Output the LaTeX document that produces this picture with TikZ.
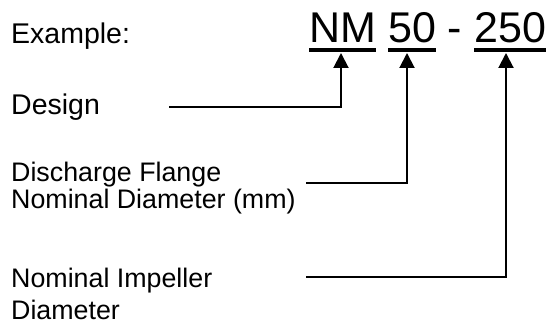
\documentclass[tikz,border=0pt]{standalone}
\usepackage{fontspec}
\setmainfont{Liberation Sans}
\usetikzlibrary{arrows.meta}
\newcommand{\drawCodeUnderline}[1]{
  \draw[line width=3.2pt] (#1.west |- underY) -- (#1.east |- underY);
}
\tikzset{
  label text/.style={inner sep=0pt, anchor=base west, font=\fontsize{26.8}{27}\selectfont},
  code text/.style={inner sep=0pt, anchor=base west, font=\fontsize{43}{48}\selectfont},
  pointer/.style={line width=2pt, -{Triangle[length=15pt, width=15pt]}}
}

\begin{document}
\begin{tikzpicture}[x=1pt, y=-1pt]
  \useasboundingbox (0,0) rectangle (548,320);
  \fill[white] (0,0) rectangle (548,320);
  \coordinate (underY) at (0,50);
  \node[label text, font=\fontsize{28.5}{30}\selectfont] (example) at (11,44) {Example:};
  \node[label text, font=\fontsize{28.5}{30}\selectfont] (design) at (11,115) {Design};
  \node[label text, align=left] (flange) at (11,209) {Discharge Flange\\Nominal Diameter (mm)};
  \node[label text, align=left, font=\fontsize{26.8}{32}\selectfont] (impeller) at (11,319) {Nominal Impeller\\Diameter};
  \node[code text] (codeNM) at (309,43) {NM};
  \node[code text] (code50) at (388,43) {50};
  \node[code text] (codeDash) at (447,43) {-};
  \node[code text] (code250) at (474,43) {250};
  \drawCodeUnderline{codeNM}
  \drawCodeUnderline{code50}
  \drawCodeUnderline{code250}
  \coordinate (tipNM) at (341,53);
  \coordinate (tip50) at (407,53);
  \coordinate (tip250) at (506,53);
  \coordinate (designStart) at (169,107);
  \coordinate (flangeStart) at (306,183);
  \coordinate (impellerStart) at (306,277);
  \draw[pointer] (designStart) -| (tipNM);
  \draw[pointer] (flangeStart) -| (tip50);
  \draw[pointer] (impellerStart) -| (tip250);
\end{tikzpicture}
\end{document}
